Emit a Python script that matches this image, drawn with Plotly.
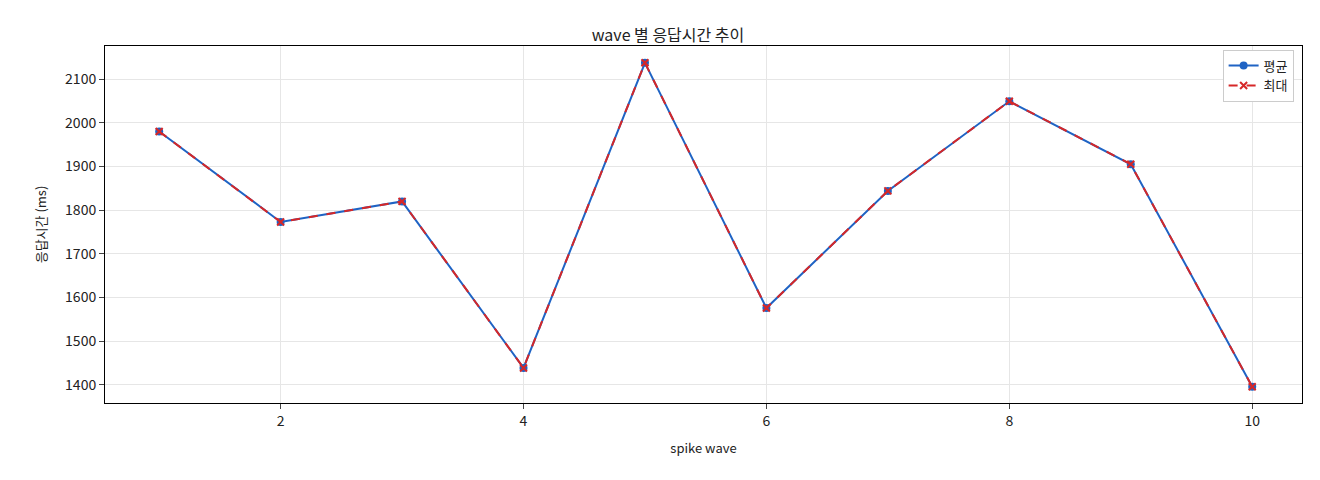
import plotly.graph_objects as go

waves = [1, 2, 3, 4, 5, 6, 7, 8, 9, 10]
avg_ms = [1980, 1773, 1820, 1439, 2137, 1576, 1844, 2049, 1905, 1396]
max_ms = [1980, 1773, 1820, 1439, 2137, 1576, 1844, 2049, 1905, 1396]

font = "Noto Sans CJK KR"
fig = go.Figure()
fig.add_trace(go.Scatter(x=waves, y=avg_ms, name="평균", mode="lines+markers",
                         line=dict(color="#1f63c4", width=2),
                         marker=dict(symbol="circle", size=8, color="#1f63c4")))
fig.add_trace(go.Scatter(x=waves, y=max_ms, name="최대", mode="lines+markers",
                         line=dict(color="#d62728", width=2, dash="dash"),
                         marker=dict(symbol="x-thin", size=7, line=dict(width=2, color="#d62728"))))
fig.update_layout(
    width=1320, height=480, plot_bgcolor="white", paper_bgcolor="white",
    font=dict(family=font, size=13, color="#222"),
    title=dict(text="wave 별 응답시간 추이", x=0.5, xanchor="center", y=0.955, font=dict(size=16)),
    margin=dict(l=97, r=26, t=38, b=85),
    legend=dict(x=0.993, y=0.99, xanchor="right", yanchor="top", bordercolor="#ccc",
                borderwidth=1, bgcolor="white"),
)
fig.update_xaxes(range=[0.554, 10.41], tickvals=[2, 4, 6, 8, 10], title=dict(text="spike wave", font=dict(size=13)),
                 tickfont=dict(size=14),
                 showline=True, linecolor="black", mirror=True, ticks="outside",
                 gridcolor="#e6e6e6", zeroline=False)
fig.update_yaxes(range=[1358.8, 2175.5], dtick=100, title=dict(text="응답시간 (ms)", font=dict(size=13)),
                 tickfont=dict(size=14),
                 showline=True, linecolor="black", mirror=True, ticks="outside",
                 gridcolor="#e6e6e6", zeroline=False)
fig.write_html("out.html")
